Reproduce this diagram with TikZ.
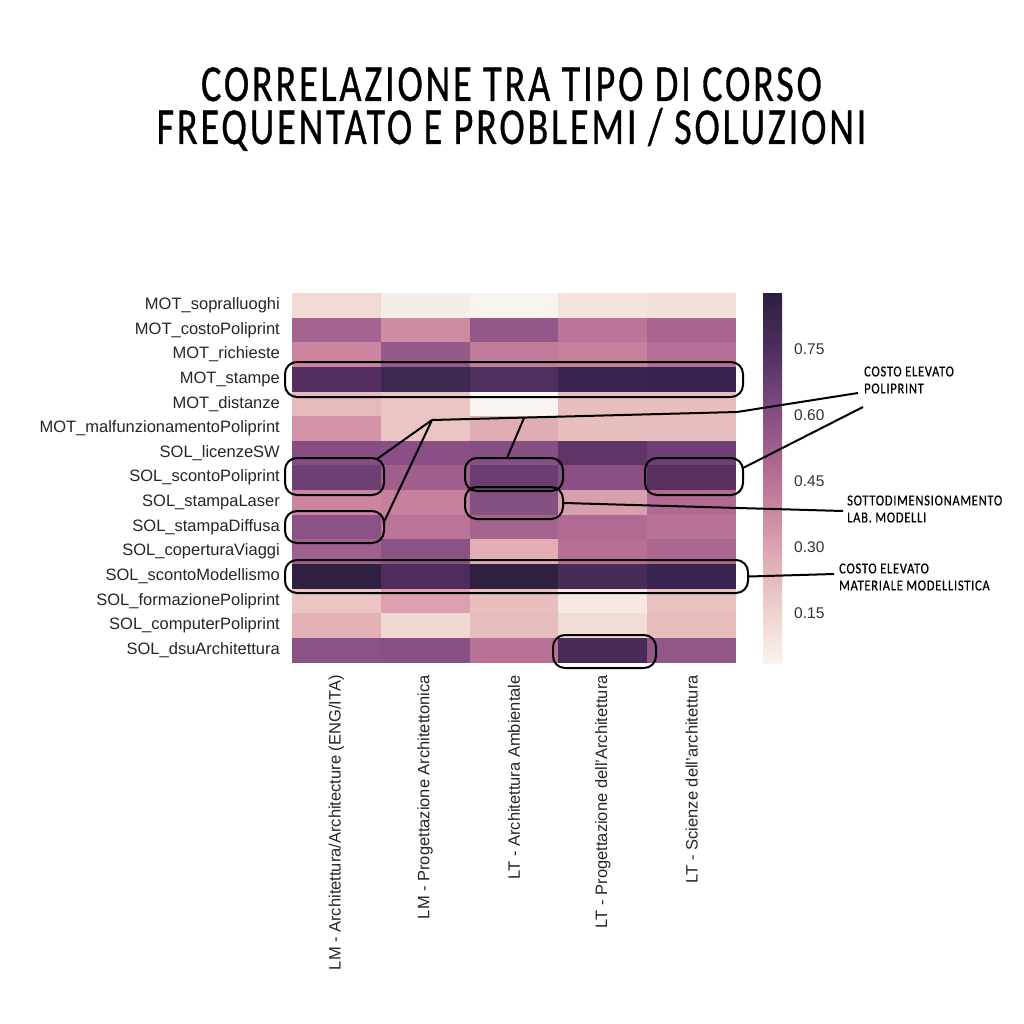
\documentclass[tikz,border=0pt]{standalone}
\usepackage{fontspec}
\setmainfont{Liberation Sans}
\newfontfamily\titlefont[FakeStretch=0.733,LetterSpace=5.5,FakeBold=0.6]{Carlito}
\newfontfamily\notefont[FakeStretch=0.82,LetterSpace=5,FakeBold=0.5]{Carlito}
\usetikzlibrary{calc}
\def\cellw{88.8}
\def\cellh{24.63}
\tikzset{
  ylab/.style={anchor=east,font=\fontsize{16.5}{18}\selectfont,text=black!85,inner sep=0pt},
  xlab/.style={anchor=east,rotate=90,font=\fontsize{16.5}{18}\selectfont,text=black!85,inner sep=0pt},
  ticklab/.style={anchor=west,font=\fontsize{15.5}{18}\selectfont,text=black!80,inner sep=0pt},
  ttl/.style={font=\titlefont\fontsize{52}{52}\selectfont,inner sep=0pt},
  note/.style={anchor=west,align=left,font=\notefont\fontsize{15.2}{17}\selectfont,inner sep=0pt},
  hbox/.style={draw=black,line width=2pt,rounded corners=12pt,fill=none,inner sep=0pt},
  lead/.style={draw=black,line width=2pt},
}
\newcommand{\hbx}[5]{\node[hbox,minimum width=#4-#3,minimum height=#5-#2] (#1) at ({(#3+#4)/2},{(#2+#5)/2}) {};}
\begin{document}
\begin{tikzpicture}[x=1pt,y=-1pt]
\useasboundingbox (0,0) rectangle (1024,1024);
\fill[white] (0,0) rectangle (1024,1024);
\node[ttl,anchor=base] (t1) at (511.5,101) {CORRELAZIONE TRA TIPO DI CORSO};
\node[ttl,anchor=base] (t2) at (511.5,144) {FREQUENTATO E PROBLEMI / SOLUZIONI};
% heat map
\foreach \r/\row in {
0/{F0DAD2,F6EDE7,F9F3EE,F5E4DE,F3E0D9},
1/{A5648F,CC8DA3,93578A,BC7598,A96590},
2/{CB85A0,965A8A,C17C9A,C5819D,B56E95},
3/{562F62,3D2850,4E2F5E,3A2550,38234E},
4/{E5BABB,EBC7C4,FAF4F0,E8BFBE,E8BFBD},
5/{D393A8,EAC5C3,E0ADB4,E7BFBD,E7BEBD},
6/{874D82,8A5085,875084,5F3568,6E3F72},
7/{6E3F72,A05F8D,6A3C70,8A4F84,57305F},
8/{CB85A0,C67F9D,845082,D8A0AE,B06A93},
9/{8B5285,BB7498,A5648F,B16B93,B87197},
10/{A0608D,8B5285,E2AEB4,B76F96,AC6891},
11/{2F1F40,4F2C5E,2F1F41,482C57,3A2550},
12/{EAC5C3,DD9FAE,E8BFBE,F6E9E3,E8C0BE},
13/{E3B0B6,F0D8D2,E7BCBC,F1DDD6,E7BDBC},
14/{8B5285,895083,B87197,482C57,905787}} {
  \foreach \c [count=\k from 0] in \row {
    \definecolor{cellc}{HTML}{\c}
    \fill[cellc] ({292+\k*\cellw},{293+\r*\cellh}) rectangle ++({\cellw+0.3},{\cellh+0.3});
  }
}
% colour bar
\foreach \ya/\yb/\ca/\cb in {
293/349/2D1E3E/4E2E60,
349/415/4E2E60/874E84,
415/481/874E84/BA7297,
481/547/BA7297/DDA3B0,
547/613/DDA3B0/EFD3CE,
613/663/EFD3CE/FAF3EF} {
  \definecolor{ca}{HTML}{\ca}\definecolor{cb}{HTML}{\cb}
  \shade[top color=ca,bottom color=cb] (763,\ya) rectangle (782,\yb+0.4);
}
% y labels
\foreach \r/\t in {0/MOT\_sopralluoghi,1/MOT\_costoPoliprint,2/MOT\_richieste,3/MOT\_stampe,4/MOT\_distanze,5/MOT\_malfunzionamentoPoliprint,6/SOL\_licenzeSW,7/SOL\_scontoPoliprint,8/SOL\_stampaLaser,9/SOL\_stampaDiffusa,10/SOL\_coperturaViaggi,11/SOL\_scontoModellismo,12/SOL\_formazionePoliprint,13/SOL\_computerPoliprint,14/SOL\_dsuArchitettura}
  \node[ylab] (y\r) at (280,{293+(\r+0.5)*\cellh}) {\t};
% x labels
\foreach \k/\t in {0/{LM - Architettura/Architecture (ENG/ITA)},1/{LM - Progettazione Architettonica},2/{LT - Architettura Ambientale},3/{LT - Progettazione dell'Architettura},4/{LT - Scienze dell'architettura}}
  \node[xlab] (x\k) at ({292+(\k+0.5)*\cellw},675) {\t};
% ticks
\foreach \y/\t in {349/0.75,415/0.60,481/0.45,547/0.30,613/0.15}
  \node[ticklab] (v\t) at (794,\y) {\t};
% highlight boxes: name, top, left, right, bottom
\hbx{bStampe}{362}{285}{743}{397}
\hbx{bScontoA}{458}{285}{384}{495}
\hbx{bScontoC}{458}{465}{563}{491}
\hbx{bScontoE}{458}{645}{743}{495}
\hbx{bLaser}{487}{465}{563}{519}
\hbx{bDiffusa}{511}{285}{384}{543}
\hbx{bModell}{560}{285}{748}{593}
\hbx{bDsu}{635}{553}{656}{668}
% notes
\node[note] (nPoli) at (864,380) {COSTO ELEVATO\\POLIPRINT};
\node[note] (nLab) at (847,509) {SOTTODIMENSIONAMENTO\\LAB. MODELLI};
\node[note] (nMat) at (839,577) {COSTO ELEVATO\\MATERIALE MODELLISTICA};
% connectors
\coordinate (jA) at (432,420);
\coordinate (jB) at (524,418);
\coordinate (bend) at (737,412);
\coordinate (eA) at (858,393);
\coordinate (eB) at (863,407);
\coordinate (eC) at (843,511);
\coordinate (eD) at (834,574);
\draw[lead] (jA) -- (bend) -- (eA);
\draw[lead] (jA) -- (377,459);
\draw[lead] (jA) -- (384,522);
\draw[lead] (jB) -- (507,458);
\draw[lead] (743,468) -- (eB);
\draw[lead] (bLaser.east) -- (eC);
\draw[lead] (bModell.east) -- (eD);
\end{tikzpicture}
\end{document}
